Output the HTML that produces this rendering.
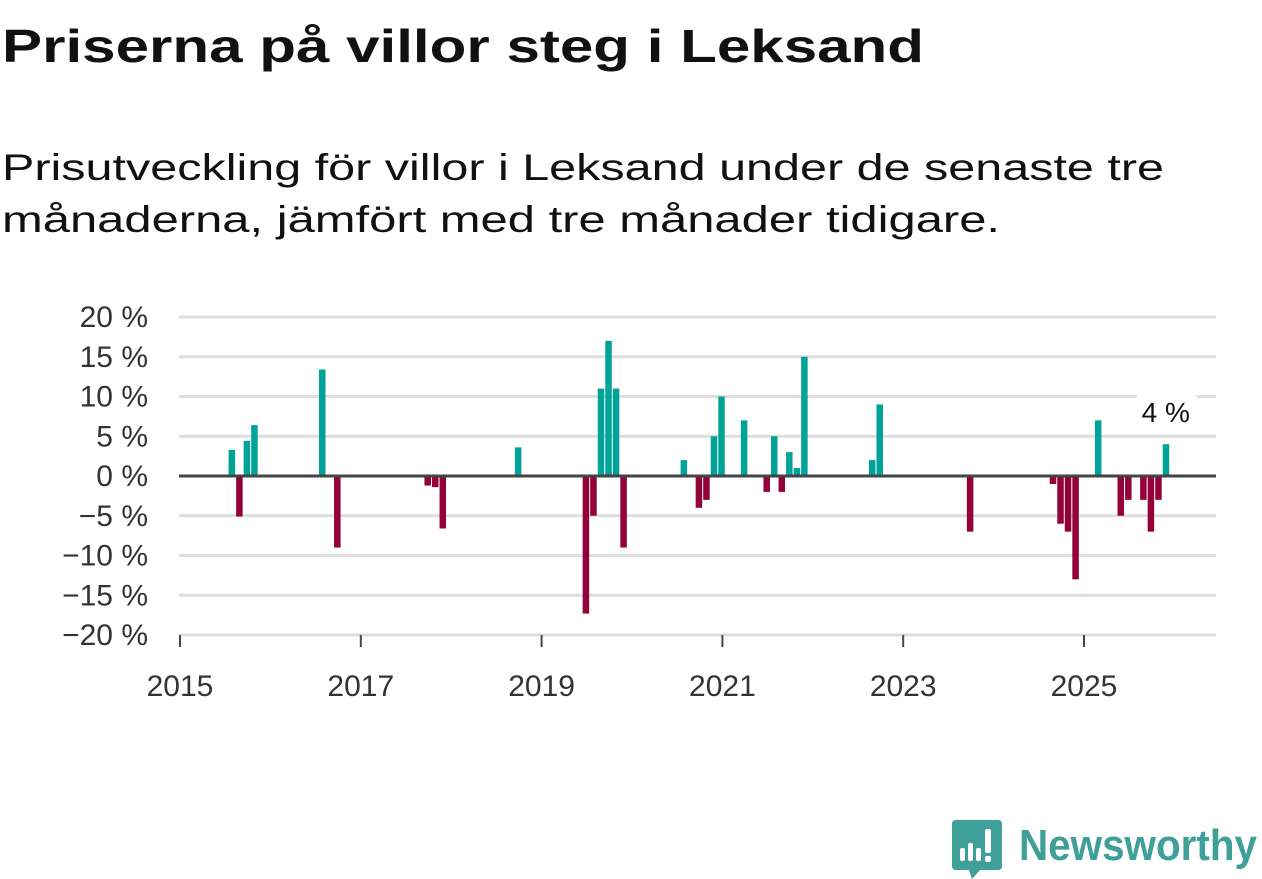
<!DOCTYPE html>
<html><head><meta charset="utf-8"><style>
html,body{margin:0;padding:0;background:#fff;width:1262px;height:879px;overflow:hidden}
svg{display:block;font-family:"Liberation Sans",sans-serif}
</style></head><body>
<svg width="1262" height="879" viewBox="0 0 1262 879">
<text x="2" y="62" font-size="46" font-weight="bold" fill="#111" textLength="922" lengthAdjust="spacingAndGlyphs">Priserna på villor steg i Leksand</text>
<text x="2" y="180" font-size="37" fill="#111" textLength="1162" lengthAdjust="spacingAndGlyphs">Prisutveckling för villor i Leksand under de senaste tre</text>
<text x="2" y="232" font-size="37" fill="#111" textLength="998" lengthAdjust="spacingAndGlyphs">månaderna, jämfört med tre månader tidigare.</text>
<g id="grid"></g>
<g id="bars"></g>
<g id="axes"></g>
<g>
<path d="M956 820 H998 Q1002 820 1002 824 V866 Q1002 870 998 870 H980 L972 879 L969 870 H956 Q952 870 952 866 V824 Q952 820 956 820 Z" fill="#3fa09a"/>
<rect x="960" y="848" width="5" height="13" rx="2" fill="#fff"/>
<rect x="968" y="843" width="5" height="18" rx="2" fill="#fff"/>
<rect x="976" y="848" width="5" height="13" rx="2" fill="#fff"/>
<rect x="985" y="829" width="6" height="24" rx="2" fill="#fff"/>
<rect x="985" y="856" width="6" height="6" rx="2" fill="#fff"/>
<text x="1019" y="860" font-size="44" font-weight="bold" fill="#3fa09a" textLength="238" lengthAdjust="spacingAndGlyphs">Newsworthy</text>
</g>
</svg>
<script>
// month index from Jan 2015 (0 = Jan 2015)
const months = [6,7,8,9,18,20,32,33,34,44,53,54,55,56,57,58,66,68,69,70,71,74,77,78,79,80,81,82,91,92,104,115,116,117,118,121,124,125,127,128,129,130];
const values = [3.3,-5.1,4.4,6.4,13.4,-9,-1.2,-1.4,-6.6,3.6,-17.3,-5,11,17,11,-9,2,-4,-3,5,10,7,-2,5,-2,3,1,15,2,9,-7,-1,-6,-7,-13,7,-5,-3,-3,-7,-3,4];
const yTicks = [20,15,10,5,0,-5,-10,-15,-20];
const yTickLabels = ["20 %","15 %","10 %","5 %","0 %","−5 %","−10 %","−15 %","−20 %"];
const xTicks = [2015,2017,2019,2021,2023,2025];
const lastLabel = "4 %";

const NS="http://www.w3.org/2000/svg";
const x0=180, pxPerMonth=904/120;
function xs(m){return x0+(m+0.85)*pxPerMonth;}
function xYear(y){return x0+(y-2015)*12*pxPerMonth;}
function ys(v){return 476-v*7.95;}
function mk(tag,attrs,parent){const e=document.createElementNS(NS,tag);for(const k in attrs)e.setAttribute(k,attrs[k]);parent.appendChild(e);return e;}
const grid=document.getElementById('grid'),bars=document.getElementById('bars'),axes=document.getElementById('axes');
yTicks.forEach((t,i)=>{
  if(t!==0){const l=mk('line',{x1:179,x2:1216,y1:ys(t),y2:ys(t),stroke:'#dedede','stroke-width':3},grid);
  
  }
  const tx=mk('text',{x:148,y:ys(t)+10,'text-anchor':'end','font-size':30,fill:'#333'},axes);
  tx.textContent=yTickLabels[i];
  
  
});
months.forEach((d,i)=>{
  const v=values[i],cx=xs(d),y=ys(v);
  const r=mk('rect',{x:cx-3,width:6.5,y:v>=0?y:ys(0),height:Math.abs(ys(0)-y),fill:v>=0?'#00a398':'#93003a'},bars);
  
  
});
const z=mk('line',{x1:179,x2:1216,y1:ys(0),y2:ys(0),stroke:'#444','stroke-width':3},axes);


xTicks.forEach(t=>{
  const X=xYear(t);
  const tk=mk('line',{x1:X,x2:X,y1:635,y2:647,stroke:'#444','stroke-width':2},axes);
  
  
  const tx=mk('text',{x:X,y:696,'text-anchor':'middle','font-size':30,fill:'#333'},axes);
  tx.textContent=String(t);
  
  
});
const li=months.length-1;
const lx=xs(months[li]), ly=ys(values[li])-22;
const bg=mk('rect',{x:lx-30,y:ly-30,width:62,height:38,rx:8,fill:'#fff'},axes);


const lt=mk('text',{x:lx,y:ly,'text-anchor':'middle','font-size':28,fill:'#111'},axes);
lt.textContent=lastLabel;


</script>
</body></html>
